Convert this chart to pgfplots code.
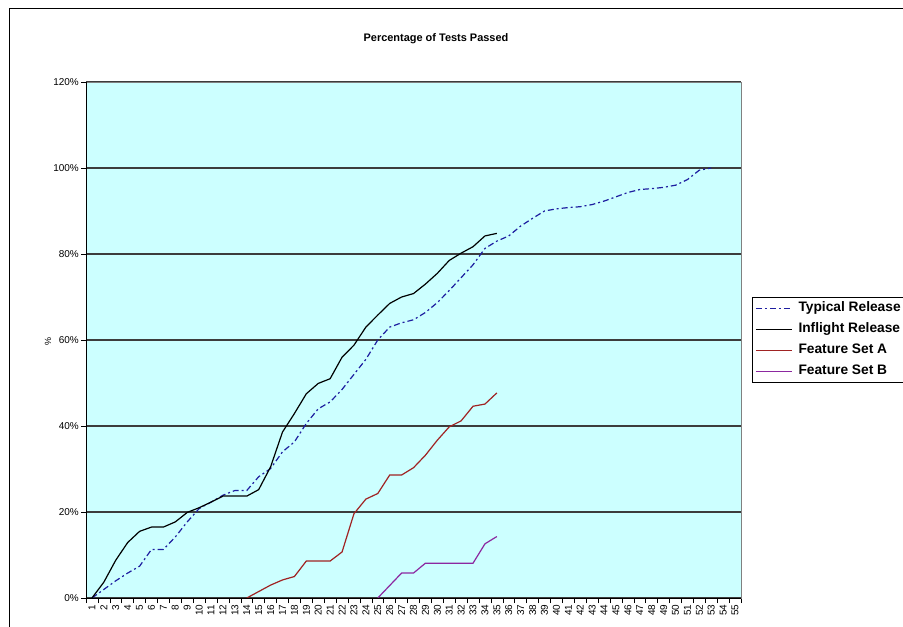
\documentclass[border=0pt]{standalone}
\usepackage{pgfplots}
\pgfplotsset{compat=1.18}
\usepackage{fontspec}
\setmainfont{Liberation Sans}

\definecolor{plotbg}{RGB}{204,255,255}
\definecolor{typblue}{RGB}{30,30,160}
\definecolor{featred}{RGB}{160,35,35}
\definecolor{featpurple}{RGB}{140,40,160}
\definecolor{gridgray}{RGB}{60,60,60}
\definecolor{boxgray}{RGB}{128,128,128}

\begin{document}
\begin{tikzpicture}
\path[use as bounding box] (0,0) rectangle (903bp,-627bp);
\clip (0,0) rectangle (903bp,-627bp);
% chart frame
\draw[black, line width=0.8bp] (9bp,-640bp) -- (9bp,-8bp) -- (920bp,-8bp);
\node[anchor=base, font=\bfseries\fontsize{11}{13}\selectfont] at (436bp,-41bp) {Percentage of Tests Passed};
\node[rotate=90, font=\fontsize{9}{10}\selectfont] at (48bp,-342bp) {\%};

\begin{axis}[
    at={(86bp,-598bp)}, anchor=south west,
    width=655bp, height=516bp, scale only axis,
    xmin=0.5, xmax=55.5,
    ymin=0, ymax=120,
    axis background/.style={fill=plotbg},
    axis line style={boxgray, line width=0.8bp},
    tick pos=left,
    xtick={1,...,55},
    minor xtick={0.5,1.5,...,55.5},
    major x tick style={draw=none},
    minor x tick style={black, line width=0.6bp},
    ytick={0,20,...,120},
    y tick style={black, line width=0.6bp},
    tick align=outside,
    major tick length=5bp,
    minor tick length=5bp,
    ymajorgrids,
    grid style={gridgray, line width=1.2bp},
    /pgf/number format/assume math mode=true,
    yticklabel={\pgfmathprintnumber{\tick}\%},
    ticklabel style={font=\fontsize{10}{11}\selectfont},
    xticklabel style={rotate=90, anchor=east, inner sep=1.5bp},
    yticklabel style={inner sep=2bp},
    legend cell align=left,
    legend image code/.code={\draw[#1] (0bp,0bp) -- (36bp,0bp);},
    legend style={
        at={(1.0168,0.5833)}, anchor=north west,
        draw=black, line width=0.6bp, fill=white,
        inner xsep=3bp, inner ysep=3.5bp,
        row sep=6bp,
        font=\bfseries\fontsize{13.8}{15}\selectfont,
        nodes={inner sep=1bp, text height=10bp, text depth=3bp},
        /tikz/every odd column/.append style={column sep=5bp},
    },
]

% Typical Release
\addplot[typblue, line width=1.2bp, dash pattern=on 6bp off 3bp on 2bp off 3bp] coordinates {
    (1,0) (2,2) (3,4) (4,5.8) (5,7.4) (6,11.3) (7,11.3) (8,14.2) (9,17.7) (10,20.8)
    (11,22.3) (12,23.9) (13,25) (14,25) (15,28.2) (16,30.1) (17,34) (18,36.3) (19,40.6) (20,44)
    (21,45.6) (22,48.5) (23,52) (24,55.5) (25,60) (26,63) (27,64) (28,64.7) (29,66.4) (30,68.7)
    (31,71.5) (32,74.5) (33,77.5) (34,81.3) (35,83) (36,84.2) (37,86.5) (38,88.3) (39,90) (40,90.5)
    (41,90.8) (42,91) (43,91.5) (44,92.3) (45,93.3) (46,94.3) (47,95) (48,95.2) (49,95.5) (50,96)
    (51,97.3) (52,99.5) (53,100)
};
\addlegendentry{Typical Release}

% Inflight Release
\addplot[black, line width=1.2bp] coordinates {
    (1,0) (2,3.7) (3,8.8) (4,12.9) (5,15.5) (6,16.5) (7,16.5) (8,17.7) (9,19.9) (10,21)
    (11,22.3) (12,23.7) (13,23.7) (14,23.7) (15,25.2) (16,30.5) (17,38.6) (18,42.9) (19,47.5) (20,49.9)
    (21,51) (22,56) (23,58.8) (24,63) (25,65.8) (26,68.5) (27,70) (28,70.8) (29,73) (30,75.5)
    (31,78.5) (32,80.2) (33,81.7) (34,84.2) (35,84.8)
};
\addlegendentry{Inflight Release}

% Feature Set A
\addplot[featred, line width=1.2bp] coordinates {
    (14,0) (15,1.5) (16,3) (17,4.2) (18,5) (19,8.6) (20,8.6) (21,8.6) (22,10.7) (23,19.6)
    (24,23) (25,24.3) (26,28.6) (27,28.6) (28,30.3) (29,33.2) (30,36.7) (31,39.8) (32,41.2) (33,44.6)
    (34,45.1) (35,47.7)
};
\addlegendentry{Feature Set A}

% Feature Set B
\addplot[featpurple, line width=1.2bp] coordinates {
    (25,0) (26,2.9) (27,5.8) (28,5.8) (29,8.1) (30,8.1) (31,8.1) (32,8.1) (33,8.1) (34,12.6)
    (35,14.3)
};
\addlegendentry{Feature Set B}

% darker left and bottom axis lines
\draw[black, line width=0.8bp] (rel axis cs:0,1) -- (rel axis cs:0,0) -- (rel axis cs:1,0);
\end{axis}
\end{tikzpicture}
\end{document}
